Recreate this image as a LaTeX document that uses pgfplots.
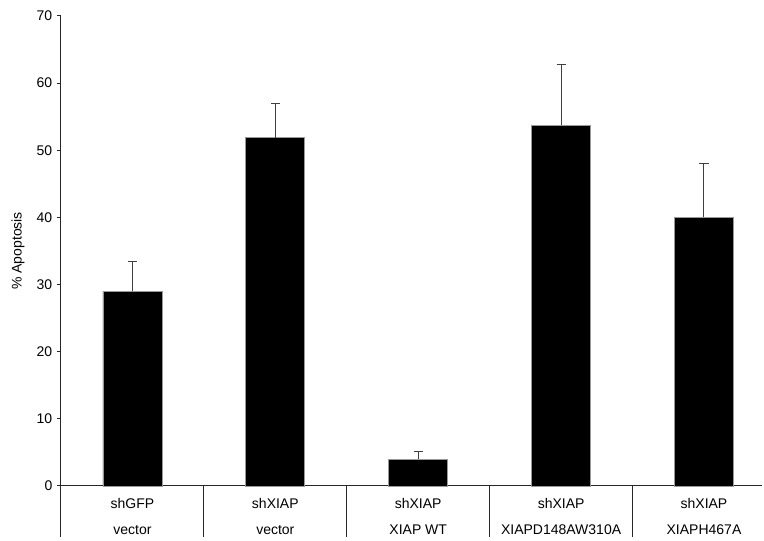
\documentclass[border=0pt]{standalone}
\usepackage{fontspec}
\setmainfont{Liberation Sans}
\usepackage{pgfplots}
\pgfplotsset{compat=1.18}
\begin{document}
\begin{tikzpicture}[x=1pt,y=1pt]
\path[use as bounding box] (-45.75pt,-41.25pt) rectangle (527.25pt,364.5pt);
\begin{axis}[
  at={(0,0)}, anchor=south west,
  scale only axis,
  width=525.75pt, height=352.5pt,
  xmin=-0.5, xmax=4.406,
  ymin=0, ymax=70,
  clip=false,
  axis x line=bottom, axis y line=left,
  axis line style={line width=0.75pt, color=black!85, -},
  ytick={0,10,...,70},
  xtick={0,1,2,3,4},
  xticklabels={{shGFP\\vector},{shXIAP\\vector},{shXIAP\\XIAP WT},{shXIAP\\XIAPD148AW310A},{shXIAP\\XIAPH467A}},
  x tick label style={align=center, font=\fontsize{10.5}{19.5}\selectfont, yshift=-2.5pt},
  y tick label style={font=\fontsize{10.5}{12}\selectfont},
  /pgf/number format/assume math mode=true,
  major x tick style={draw=none},
  major y tick style={line width=0.75pt, color=black!85},
  tick align=outside,
  major tick length=3pt,
  ylabel={\% Apoptosis},
  ylabel style={at={(axis description cs:0,0.5)}, anchor=center, rotate=0, yshift=32.25pt, font=\fontsize{10.5}{12}\selectfont},
  bar width=44.25pt,
]
\addplot[ybar, fill=black, draw=black!40, line width=0.5pt,
  error bars/.cd, y dir=plus, y explicit,
  error bar style={line width=0.75pt, color=black!75},
  error mark options={rotate=90, mark size=3.4pt, line width=0.75pt, color=black!75}]
  coordinates {(0,29.0) +- (0,4.4) (1,51.9) +- (0,5.0) (2,4.0) +- (0,1.2) (3,53.7) +- (0,9.1) (4,40.0) +- (0,8.0)};
\pgfplotsinvokeforeach{-0.5,0.5,1.5,2.5,3.5}{
  \draw[line width=0.75pt, black!85] (axis cs:#1,0) -- ([yshift=-38.25pt]axis cs:#1,0);
}
\end{axis}
\end{tikzpicture}
\end{document}
